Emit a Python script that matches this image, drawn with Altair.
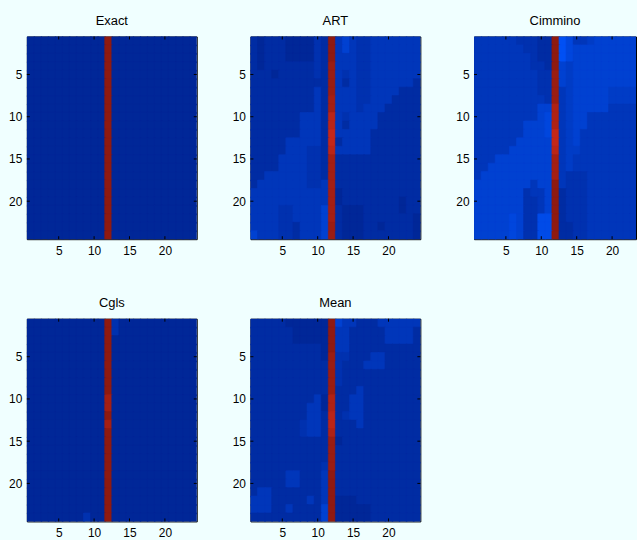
import altair as alt
import pandas as pd

panel_titles = ["Exact", "ART", "Cimmino", "Cgls", "Mean"]
tick_values = [5, 10, 15, 20]

# cell level codes: digits = blue shades, letters = red shades
level_codes = list("0123456789ABCDEF")
level_values = [0.0, 0.0125, 0.025, 0.0375, 0.05, 0.0625, 0.075, 0.0875, 0.1, 0.1125,
                1.0, 0.985, 0.97, 0.955, 0.94, 0.925]

# jet-like colour map
color_stops = [0, 0.125, 0.375, 0.625, 0.875, 1.0]
color_colors = ["#00228C", "#0055FF", "#00FFFF", "#FFFF00", "#E8301E", "#8F1A10"]

exact_grid = [
    "11111111111A111111111111", "11111111111A111111111111", "11111111111A111111111111",
    "11111111111A111111111111", "11111111111A111111111111", "11111111111A111111111111",
    "11111111111A111111111111", "11111111111A111111111111", "11111111111A111111111111",
    "11111111111A111111111111", "11111111111A111111111111", "11111111111A111111111111",
    "11111111111A111111111111", "11111111111A111111111111", "11111111111A111111111111",
    "11111111111A111111111111", "11111111111A111111111111", "11111111111A111111111111",
    "11111111111A111111111111", "11111111111A111111111111", "11111111111A111111111111",
    "11111111111A111111111111", "11111111111A111111111111", "11111111111A111111111111",
]

art_grid = [
    "21222111132A464334444444",
    "21222111132A464334444444",
    "21222111132A444334444444",
    "21222222232B444334444444",
    "22212222232B434334444444",
    "22222222222B424334444442",
    "22222222242B444334444222",
    "22222222242C444334442222",
    "22222222242C444344422222",
    "22222224442E434444222222",
    "22222224442E424444222222",
    "22222224442F444442222222",
    "22222444442F244442222222",
    "22222444332E444442222222",
    "22224444332C222222222222",
    "22224444332C222222222222",
    "22444444332C222222222222",
    "24444444334C222222222222",
    "44444444444C122222222222",
    "44444444444C122222222122",
    "44443344446C211122222122",
    "44443344446C211122222221",
    "44443324446B211122122221",
    "64443324446B211122222221",
]

cimmino_grid = [
    "44444433322A974456666665",
    "44444443322A976666666665",
    "44444444322A976666666665",
    "44444444332A656666666665",
    "44444444433B656666666665",
    "44444444433B656666666665",
    "44444444433B456666655555",
    "44444444443B456666655555",
    "44444444466D456666644444",
    "44444444467D456644444444",
    "44444446667D456644444444",
    "44444446667F456444444444",
    "44444466666F456444444444",
    "44444666666E455444444444",
    "44466666666C454444444444",
    "44666666666C454444444444",
    "46666666666C433344444444",
    "66666666466A433344444444",
    "66666663446A233344444444",
    "66666663346A233344444444",
    "66666663346A233344444444",
    "66666763388A233344444444",
    "66666763388A223344444444",
    "66666763388A223344444444",
]

cgls_grid = [
    "11111111111A311111111111", "11111111111A311111111111", "11111111111A111111111111",
    "11111111111A111111111111", "11111111111A111111111111", "11111111111A111111111111",
    "11111111111A111111111111", "11111111111A111111111111", "11111111111A111111111111",
    "11111111111C111111111111", "11111111111C111111111111", "11111111111A111111111111",
    "11111111111C111111111111", "11111111111A111111111111", "11111111111A111111111111",
    "11111111111A111111111111", "11111111111A111111111111", "11111111111A111111111111",
    "11111111111A111111111111", "11111111111A111111111111", "11111111111A111111111111",
    "11111111111A111111111111", "11111111111A111111111111", "11111111311A111111111111",
]

mean_grid = [
    "22222111111A644222444444",
    "22222211111A442222244442",
    "22222211111A442222244442",
    "22222222221A442222222222",
    "22222222221B332224422222",
    "22222222222B322244422222",
    "22222222222B322222222222",
    "22222222222B322222222222",
    "22222222222B222422222222",
    "22222222241D224422222222",
    "22222222441D224422222222",
    "22222222442E234422222222",
    "22222223442E222422222222",
    "22222223442D222222222222",
    "22222222222B122222222222",
    "22222222222B222222222222",
    "22222222222B222222222222",
    "22222222223B222222222222",
    "22222442224A222222222222",
    "22222442224A222222222222",
    "24422222224A222222222222",
    "44422222424A111222222222",
    "44422422226A111112222222",
    "22222222226A111112222222",
]

level_map = dict(zip(level_codes, level_values))
H = 204


def grid_frame(grid):
    recs = []
    for r, line in enumerate(grid, start=1):
        for c, ch in enumerate(line, start=1):
            recs.append({"row": r, "col": c, "value": level_map[ch]})
    return pd.DataFrame(recs)


def panel(title, grid, width=171, xmax=24.5, right_ticks=True):
    df = grid_frame(grid)
    xs = alt.Scale(domain=[0.5, xmax], nice=False, zero=False)
    ys = alt.Scale(domain=[0.5, 24.5], nice=False, zero=False, reverse=True)
    xaxis = alt.Axis(values=tick_values)
    yaxis = alt.Axis(values=tick_values)
    cscale = alt.Scale(domain=color_stops, range=color_colors, interpolate="rgb")
    rect = alt.Chart(df).transform_calculate(
        x0="datum.col - 0.5", x1="datum.col + 0.62",
        y0="datum.row - 0.5", y1="datum.row + 0.62",
    ).mark_rect(clip=True, strokeWidth=0.6).encode(
        x=alt.X("x0:Q", scale=xs, title=None, axis=xaxis),
        x2="x1:Q",
        y=alt.Y("y0:Q", scale=ys, title=None, axis=yaxis),
        y2="y1:Q",
        color=alt.Color("value:Q", scale=cscale, legend=None),
        stroke=alt.Stroke("value:Q", scale=cscale, legend=None),
    )
    tdf = pd.DataFrame({"t": tick_values})
    tb = alt.Chart(tdf).mark_rule(color="black", strokeWidth=1)
    layers = [
        rect,
        tb.encode(x=alt.X("t:Q", scale=xs, title=None, axis=xaxis), y=alt.value(H), y2=alt.value(H - 3)),
        tb.encode(x=alt.X("t:Q", scale=xs, title=None, axis=xaxis), y=alt.value(0), y2=alt.value(3)),
        tb.encode(y=alt.Y("t:Q", scale=ys, title=None, axis=yaxis), x=alt.value(0), x2=alt.value(3)),
    ]
    if right_ticks:
        layers.append(
            tb.encode(y=alt.Y("t:Q", scale=ys, title=None, axis=yaxis), x=alt.value(width - 3), x2=alt.value(width))
        )
    return alt.layer(*layers).properties(width=width, height=H, title=title)


p1 = panel(panel_titles[0], exact_grid)
p2 = panel(panel_titles[1], art_grid)
p3 = panel(panel_titles[2], cimmino_grid, width=163, xmax=0.5 + 24 * 163 / 171, right_ticks=False)
p4 = panel(panel_titles[3], cgls_grid)
p5 = panel(panel_titles[4], mean_grid)

chart = alt.vconcat(
    alt.hconcat(p1, p2, p3, spacing=34),
    alt.hconcat(p4, p5, spacing=34),
    spacing=40,
).properties(
    padding={"left": 8, "top": 13, "right": 0, "bottom": 1}
).configure(
    background="#F0FFFF"
).configure_view(
    stroke="black", strokeWidth=1
).configure_axis(
    labelFont="Liberation Sans", labelFontSize=12, labelColor="black",
    ticks=False, domain=False, grid=False, labelPadding=5,
).configure_axisX(
    labelPadding=6
).configure_title(
    font="Liberation Sans", fontSize=13, fontWeight="normal", color="black",
    offset=8, anchor="middle",
)

chart.save("out.html", embed_options={"renderer": "svg", "actions": False})
